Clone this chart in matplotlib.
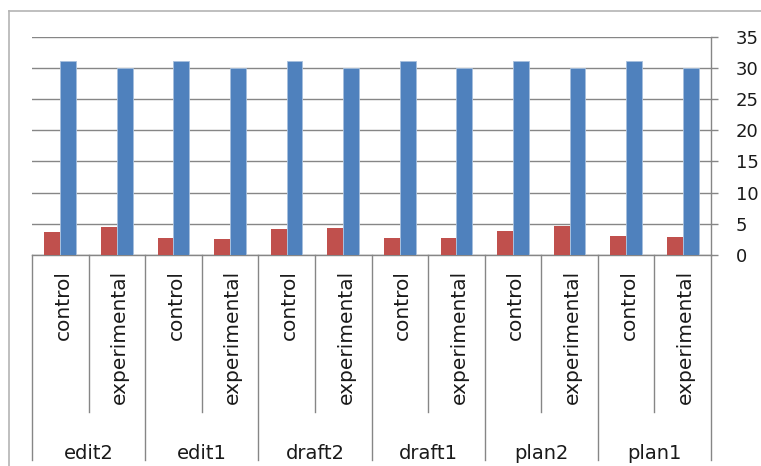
import matplotlib
matplotlib.use("Agg")
import matplotlib.pyplot as plt
import matplotlib.transforms as mtransforms
from matplotlib.lines import Line2D

# scores per stage, control vs experimental
groups = ['edit2', 'edit1', 'draft2', 'draft1', 'plan2', 'plan1']
conditions = ['control', 'experimental']
series_red = [3.7, 4.5, 2.7, 2.5, 4.2, 4.3, 2.7, 2.7, 3.9, 4.7, 3.1, 2.9]
series_blue = [31, 30, 31, 30, 31, 30, 31, 30, 31, 30, 31, 30]
yticks = [0, 5, 10, 15, 20, 25, 30, 35]

RED = '#C0504D'
BLUE = '#4F81BD'
GRID = '#868686'
FONT = 'DejaVu Sans'

W, H = 761, 466
fig = plt.figure(figsize=(W / 100, H / 100), dpi=100)

# plot area in pixels
x0, x1 = 32, 711
y_top, y_zero = 36.5, 255
ax = fig.add_axes([x0 / W, 1 - y_zero / H, (x1 - x0) / W, (y_zero - y_top) / H])

n = len(groups) * len(conditions)
xs = list(range(n))
bw = 0.28
ax.bar([x - bw / 2 for x in xs], series_red, width=bw, color=RED, zorder=3)
ax.bar([x + bw / 2 for x in xs], series_blue, width=bw, color=BLUE, zorder=3,
       edgecolor='#a7c0de', linewidth=0.6)

ax.set_xlim(-0.5, n - 0.5)
ax.set_ylim(0, 35)
ax.set_yticks(yticks)
ax.yaxis.tick_right()
ax.yaxis.grid(True, color=GRID, linewidth=1.0, zorder=0)
ax.tick_params(axis='y', direction='out', length=5, width=1, color=GRID,
               labelsize=13, pad=13)
for lab in ax.get_yticklabels():
    lab.set_fontfamily(FONT)
    lab.set_horizontalalignment('left')
    lab.set_color('#1a1a1a')
ax.set_xticks([])
for side in ['left', 'top']:
    ax.spines[side].set_visible(False)
ax.spines['right'].set_color(GRID)
ax.spines['bottom'].set_color(GRID)
ax.spines['right'].set_linewidth(1)
ax.spines['bottom'].set_linewidth(1)

# multi-level category axis below the bars
trans = mtransforms.blended_transform_factory(ax.transData, ax.transAxes)
ph = y_zero - y_top
outer_y = -(460 - y_zero) / ph
inner_y = -(412 - y_zero) / ph
for k in range(len(groups) + 1):
    xb = -0.5 + 2 * k
    ax.add_line(Line2D([xb, xb], [0, outer_y], transform=trans, color=GRID,
                       linewidth=1, clip_on=False))
for k in range(len(groups)):
    xb = 0.5 + 2 * k
    ax.add_line(Line2D([xb, xb], [0, inner_y], transform=trans, color=GRID,
                       linewidth=1, clip_on=False))

label_y = -(270 - y_zero) / ph
for i in xs:
    ax.text(i + 0.05, label_y, conditions[i % 2], transform=trans, rotation=90,
            ha='center', va='top', fontsize=14.5, family=FONT,
            color='#1a1a1a')
group_y = -(459 - y_zero) / ph
for g, name in enumerate(groups):
    ax.text(2 * g + 0.5, group_y, name, transform=trans, ha='center',
            va='baseline', fontsize=14, family=FONT, color='#1a1a1a')

# chart frame
frame = '#b4b4b4'
fig.add_artist(Line2D([9 / W, 1], [1 - 11 / H, 1 - 11 / H], transform=fig.transFigure,
                      color=frame, linewidth=1.2))
fig.add_artist(Line2D([9 / W, 9 / W], [1 - 11 / H, 0], transform=fig.transFigure,
                      color=frame, linewidth=1.2))

fig.savefig('out.png', dpi=100)
